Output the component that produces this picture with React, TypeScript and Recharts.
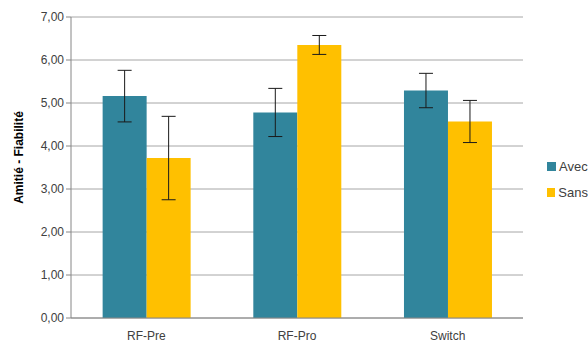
import React from 'react'
import {
  BarChart,
  Bar,
  XAxis,
  YAxis,
  CartesianGrid,
  Legend,
  ErrorBar
} from 'recharts'

const categories = ['RF-Pre', 'RF-Pro', 'Switch']
const avec = [5.16, 4.78, 5.29]
const sans = [3.72, 6.35, 4.57]
const avecErr = [0.6, 0.56, 0.4]
const sansErr = [0.97, 0.22, 0.49]
const yTicks = [0, 1, 2, 3, 4, 5, 6, 7]

const AVEC_COLOR = '#31859C'
const SANS_COLOR = '#FFC000'
const FONT = '"Liberation Sans", Arial, sans-serif'

const data = categories.map((name, i) => ({
  name,
  avec: avec[i],
  sans: sans[i],
  avecErr: avecErr[i],
  sansErr: sansErr[i]
}))

const fmt = (v: number) => v.toFixed(2).replace('.', ',')

function YLabel(props: any) {
  const { x, y, height } = props.viewBox
  const cx = x + 23
  const cy = y + height / 2 - 10
  return (
    <text
      x={cx}
      y={cy}
      transform={`rotate(-90 ${cx} ${cy})`}
      textAnchor="middle"
      fontFamily={FONT}
      fontSize={12}
      fontWeight="bold"
      fill="#000"
    >
      Amitié - Fiabilité
    </text>
  )
}

function LegendBox() {
  const items = [
    { label: 'Avec', color: AVEC_COLOR },
    { label: 'Sans', color: SANS_COLOR }
  ]
  return (
    <div style={{ width: 41, paddingLeft: 24, paddingTop: 9, fontFamily: FONT, fontSize: 13, color: '#404040' }}>
      {items.map((it, i) => (
        <div key={it.label} style={{ display: 'flex', alignItems: 'center', height: 16, marginTop: i === 0 ? 0 : 10, whiteSpace: 'nowrap' }}>
          <span style={{ display: 'inline-block', width: 9, height: 9, background: it.color, marginRight: 3 }} />
          {it.label}
        </div>
      ))}
    </div>
  )
}

export default function App() {
  return (
    <div style={{ position: 'fixed', left: 0, top: 0, width: 588, height: 349, background: '#fff', overflow: 'hidden' }}>
      <BarChart
        width={588}
        height={349}
        data={data}
        margin={{ top: 17, right: 0, left: 0, bottom: 1 }}
        barCategoryGap="21%"
        barGap={0}
      >
        <CartesianGrid vertical={false} stroke="#A6A6A6" />
        <XAxis
          dataKey="name"
          height={30}
          tickLine={false}
          axisLine={{ stroke: '#868686' }}
          tick={{ fontSize: 12, fontFamily: FONT, fill: '#404040', dy: 5 }}
        />
        <YAxis
          width={71}
          domain={[0, 7]}
          ticks={yTicks}
          tickFormatter={fmt}
          interval={0}
          tickSize={5}
          axisLine={{ stroke: '#868686' }}
          tickLine={{ stroke: '#868686' }}
          tick={{ fontSize: 12, fontFamily: FONT, fill: '#404040' }}
          label={<YLabel />}
        />
        <Legend
          layout="vertical"
          align="right"
          verticalAlign="middle"
          content={<LegendBox />}
        />
        <Bar dataKey="avec" name="Avec" fill={AVEC_COLOR} isAnimationActive={false}>
          <ErrorBar dataKey="avecErr" width={7} stroke="#1a1a1a" strokeWidth={1} />
        </Bar>
        <Bar dataKey="sans" name="Sans" fill={SANS_COLOR} isAnimationActive={false}>
          <ErrorBar dataKey="sansErr" width={7} stroke="#1a1a1a" strokeWidth={1} />
        </Bar>
      </BarChart>
    </div>
  )
}
